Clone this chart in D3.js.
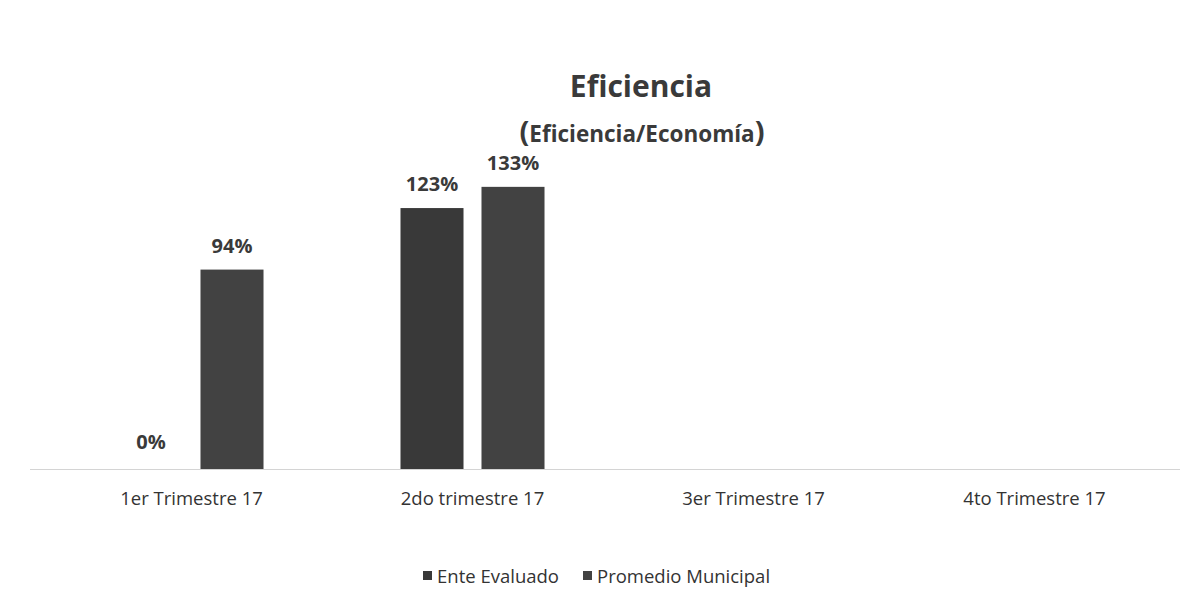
<!DOCTYPE html>
<html><head><meta charset="utf-8">
<script src="https://cdn.jsdelivr.net/npm/d3@7"></script>
<style>body{margin:0;background:#fff}svg{display:block}</style>
</head><body>
<script>
const categories = ["1er Trimestre 17","2do trimestre 17","3er Trimestre 17","4to Trimestre 17"];
const seriesNames = ["Ente Evaluado","Promedio Municipal"];
const enteValues = [0,123,null,null];
const promedioValues = [94,133,null,null];
const seriesColors = ["#393939","#424242"];
const title = "Eficiencia";
const subtitle = "Eficiencia/Economía";

const W=1187,H=606;
const svg=d3.select("body").append("svg").attr("width",W).attr("height",H);
const font="'Open Sans', Lato, sans-serif";
const x0=d3.scaleBand().domain(categories).range([51,1175]);
const x1=d3.scaleBand().domain(seriesNames).range([0,162]).paddingInner(0.222).paddingOuter(0.111);
const y=d3.scaleLinear().domain([0,140]).range([469,172]);

// axis line
svg.append("line").attr("x1",30).attr("x2",1180).attr("y1",y(0)+0.5).attr("y2",y(0)+0.5)
  .attr("stroke","#d4d4d4").attr("stroke-width",1.2);

const data=categories.map((c,i)=>({cat:c,vals:[enteValues[i],promedioValues[i]]}));
const g=svg.append("g");
data.forEach(d=>{
  const gx=x0(d.cat)+x0.bandwidth()/2-81;
  d.vals.forEach((v,j)=>{
    if(v==null) return;
    const s=seriesNames[j];
    const bx=gx+x1(s);
    if(v>0){
      g.append("rect").attr("x",bx).attr("y",y(v)).attr("width",x1.bandwidth()).attr("height",y(0)-y(v))
        .attr("fill",seriesColors[j]);
    }
    g.append("text").attr("x",bx+x1.bandwidth()/2).attr("y",y(v)-(v>0?17:20))
      .attr("text-anchor","middle").attr("font-family",font).attr("font-weight","bold")
      .attr("font-size",20).attr("fill","#3a3a3a").text(v+"%");
  });
});

// category labels
svg.append("g").selectAll("text").data(categories).join("text")
  .attr("x",d=>x0(d)+x0.bandwidth()/2).attr("y",505).attr("text-anchor","middle")
  .attr("font-family",font).attr("font-size",18.5).attr("fill","#333").text(d=>d);

// title
svg.append("text").attr("x",641).attr("y",97).attr("text-anchor","middle")
  .attr("font-family",font).attr("font-weight","bold").attr("font-size",30).attr("fill","#3a3a3a").text(title);
const st=svg.append("text").attr("x",642).attr("y",142).attr("text-anchor","middle")
  .attr("font-family",font).attr("font-weight","bold").attr("fill","#3a3a3a");
st.append("tspan").attr("font-size",29).text("(");
st.append("tspan").attr("font-size",22.5).text(subtitle);
st.append("tspan").attr("font-size",29).text(")");

// legend
const lg=svg.append("g");
const legX=[423,583];
seriesNames.forEach((s,i)=>{
  lg.append("rect").attr("x",legX[i]).attr("y",571).attr("width",9).attr("height",9).attr("fill",seriesColors[i]);
  lg.append("text").attr("x",legX[i]+14).attr("y",583).attr("font-family",font).attr("font-size",18.5)
    .attr("fill","#333").text(s);
});
</script>
</body></html>
